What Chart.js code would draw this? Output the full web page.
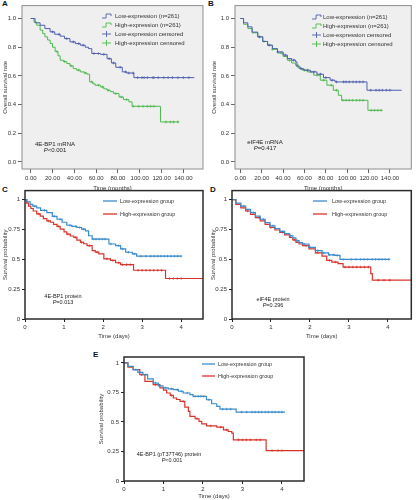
<!DOCTYPE html>
<html>
<head>
<meta charset="utf-8">
<script src="https://cdn.jsdelivr.net/npm/chart.js@4.4.1/dist/chart.umd.min.js"></script>
<style>
  html, body { margin: 0; padding: 0; background: #fff; }
  body { width: 416px; height: 500px; position: relative; overflow: hidden; font-family: "Liberation Sans", Arial, sans-serif; }
  canvas { position: absolute; }
  .tag { position: absolute; font-weight: bold; font-size: 8px; line-height: 8px; color: #111; }
</style>
</head>
<body>
<div class="tag" style="left:2px;top:0px">A</div>
<div class="tag" style="left:208px;top:0px">B</div>
<div class="tag" style="left:2px;top:186px">C</div>
<div class="tag" style="left:210px;top:186px">D</div>
<div class="tag" style="left:93px;top:351px">E</div>
<canvas id="chartA" width="208" height="195" style="left:0;top:0"></canvas>
<canvas id="chartB" width="208" height="195" style="left:208px;top:0"></canvas>
<canvas id="chartC" width="208" height="155" style="left:0;top:185px"></canvas>
<canvas id="chartD" width="208" height="155" style="left:208px;top:185px"></canvas>
<canvas id="chartE" width="214" height="155" style="left:96px;top:345px"></canvas>
<script>
const FONT = '"Liberation Sans", Arial, sans-serif';

// --- tick values ---
const monthTicks = [0, 20, 40, 60, 80, 100, 120, 140];
const rateTicks = [0, 0.2, 0.4, 0.6, 0.8, 1.0];
const dayTicks = [0, 1, 2, 3, 4];
const probTicks = [0, 0.25, 0.5, 0.75, 1];

// --- A: 4E-BP1 mRNA (months) ---
const aLowT = [0, 4, 8.6, 13, 17.8, 22, 27, 31, 36, 41, 45.5, 50, 53, 56, 60, 64, 70, 74, 78, 84, 88, 94.6, 150];
const aLowS = [1, 0.97, 0.953, 0.93, 0.907, 0.89, 0.877, 0.86, 0.837, 0.825, 0.814, 0.8, 0.79, 0.756, 0.756, 0.75, 0.72, 0.69, 0.66, 0.628, 0.62, 0.588, 0.588];
const aLowCens = [20, 26, 33, 39, 44, 48, 58, 62, 67, 72, 76, 82, 87, 90, 94, 98, 102, 104, 107, 112, 113, 117, 122, 126, 130, 135, 140, 145];
const aHighT = [0, 3, 5.5, 8.6, 11, 13, 15.5, 17.8, 20, 22.4, 25, 27, 30, 33, 36, 39, 42, 45.5, 49, 51.6, 54, 57, 59, 64, 67, 70, 73, 76, 81, 85, 90, 93, 119, 136];
const aHighS = [1, 0.975, 0.953, 0.919, 0.895, 0.872, 0.85, 0.826, 0.8, 0.77, 0.74, 0.709, 0.7, 0.686, 0.67, 0.651, 0.64, 0.628, 0.62, 0.612, 0.558, 0.545, 0.535, 0.523, 0.51, 0.5, 0.49, 0.477, 0.453, 0.435, 0.419, 0.388, 0.279, 0.279];
const aHighCens = [24, 31, 37, 44, 50, 56, 62, 66, 71, 78, 83, 88, 94, 99, 103, 107, 110, 113, 124, 128, 131, 135];

// --- B: eIF4E mRNA (months) ---
const bLowT = [0, 3, 7, 11, 16.3, 21, 25.5, 30, 34.8, 40, 44, 48, 51.7, 53, 56, 59.4, 65.5, 71.7, 77.8, 84, 88.6, 118.5, 151];
const bLowS = [1, 0.97, 0.942, 0.905, 0.872, 0.84, 0.814, 0.79, 0.767, 0.745, 0.721, 0.71, 0.698, 0.663, 0.65, 0.64, 0.628, 0.612, 0.588, 0.57, 0.558, 0.5, 0.5];
const bLowCens = [18, 27, 35, 42, 50, 57, 63, 69, 75, 80, 86, 90, 96.6, 99, 102, 105.5, 108.6, 111.7, 114.8, 122, 127, 130, 133, 136.6, 140];
const bHighT = [0, 3, 7, 11, 16.3, 21, 25.5, 30, 34.8, 40, 44, 48, 51.7, 54.8, 58, 62.5, 68.6, 74.8, 81, 87, 91.7, 94.8, 119.4, 133];
const bHighS = [1, 0.96, 0.93, 0.9, 0.872, 0.84, 0.814, 0.785, 0.76, 0.735, 0.709, 0.69, 0.674, 0.651, 0.64, 0.628, 0.605, 0.57, 0.535, 0.5, 0.465, 0.43, 0.36, 0.36];
const bHighCens = [22, 30, 38, 46, 53, 60, 66, 72, 78, 85, 90, 96, 99, 102, 105, 108.6, 111.7, 114.8, 122.5, 125.5, 128.6, 131.7];

// --- C: 4E-BP1 protein (days) ---
const cLowT = [0, 0.05, 0.13, 0.2, 0.3, 0.4, 0.56, 0.7, 0.82, 0.95, 1.07, 1.2, 1.33, 1.45, 1.55, 1.63, 1.72, 2.15, 2.32, 2.45, 2.58, 2.75, 2.86, 4.0];
const cLowS = [1, 0.98, 0.959, 0.945, 0.931, 0.91, 0.89, 0.86, 0.835, 0.81, 0.785, 0.775, 0.766, 0.752, 0.738, 0.697, 0.669, 0.628, 0.614, 0.587, 0.559, 0.545, 0.526, 0.526];
const cLowCens = [0.25, 0.5, 0.75, 0.9, 1.15, 1.3, 1.4, 1.5, 1.75, 1.82, 1.9, 1.98, 2.05, 2.2, 2.4, 2.5, 2.65, 2.8, 2.97, 3.1, 3.22, 3.31, 3.4, 3.48, 3.57, 3.65, 3.74, 3.83, 3.91, 4.0];
const cHighT = [0, 0.04, 0.09, 0.15, 0.21, 0.3, 0.39, 0.47, 0.56, 0.65, 0.73, 0.82, 0.9, 1.0, 1.07, 1.16, 1.25, 1.33, 1.42, 1.5, 1.59, 1.72, 1.8, 1.89, 2.02, 2.19, 2.32, 2.45, 2.78, 3.6, 4.6];
const cHighS = [1, 0.97, 0.945, 0.925, 0.904, 0.88, 0.862, 0.84, 0.821, 0.81, 0.793, 0.775, 0.752, 0.73, 0.711, 0.695, 0.683, 0.66, 0.642, 0.63, 0.614, 0.573, 0.56, 0.545, 0.504, 0.49, 0.471, 0.455, 0.408, 0.339, 0.339];
const cHighCens = [0.35, 0.6, 0.85, 1.1, 1.3, 1.45, 1.65, 1.85, 2.1, 2.25, 2.4, 2.5, 2.6, 2.7, 2.9, 3.0, 3.1, 3.2, 3.3, 3.4, 3.5, 3.7, 3.8, 3.9, 4.0];

// --- D: eIF4E protein (days) ---
const dLowT = [0, 0.1, 0.225, 0.35, 0.475, 0.6, 0.725, 0.85, 0.975, 1.1, 1.225, 1.35, 1.475, 1.56, 1.64, 1.72, 1.81, 1.975, 2.14, 2.31, 2.475, 2.64, 2.77, 4.06];
const dLowS = [1, 0.97, 0.945, 0.918, 0.89, 0.862, 0.835, 0.807, 0.78, 0.757, 0.733, 0.715, 0.697, 0.68, 0.656, 0.64, 0.628, 0.6, 0.573, 0.554, 0.537, 0.532, 0.499, 0.499];
const dLowCens = [0.3, 0.55, 0.8, 1.05, 1.3, 1.5, 1.68, 1.85, 2.0, 2.2, 2.35, 2.5, 2.6, 2.7, 2.85, 3.06, 3.18, 3.3, 3.39, 3.48, 3.6, 3.68, 3.77, 3.85, 3.93, 4.02];
const dHighT = [0, 0.1, 0.225, 0.35, 0.475, 0.6, 0.725, 0.85, 0.975, 1.1, 1.225, 1.35, 1.475, 1.56, 1.64, 1.72, 1.81, 1.975, 2.14, 2.31, 2.43, 2.56, 2.72, 2.85, 3.56, 3.6, 4.6];
const dHighS = [1, 0.96, 0.931, 0.904, 0.876, 0.848, 0.821, 0.793, 0.766, 0.745, 0.725, 0.704, 0.683, 0.662, 0.642, 0.628, 0.614, 0.587, 0.554, 0.526, 0.49, 0.477, 0.463, 0.435, 0.38, 0.325, 0.325];
const dHighCens = [0.4, 0.7, 1.0, 1.3, 1.6, 1.9, 2.2, 2.5, 2.65, 2.9, 3.0, 3.1, 3.2, 3.3, 3.4, 3.5, 3.75, 3.9, 4.05];

// --- E: 4E-BP1 (pT37T46) protein (days) ---
const eLowT = [0, 0.1, 0.23, 0.35, 0.48, 0.6, 0.74, 0.87, 0.99, 1.12, 1.25, 1.38, 1.5, 1.67, 1.75, 2.09, 2.22, 2.35, 2.43, 2.84, 4.08];
const eLowS = [1, 0.97, 0.943, 0.92, 0.9, 0.865, 0.83, 0.805, 0.788, 0.78, 0.773, 0.76, 0.745, 0.731, 0.717, 0.688, 0.654, 0.632, 0.609, 0.584, 0.584];
const eLowCens = [0.3, 0.55, 0.8, 1.05, 1.2, 1.35, 1.45, 1.6, 1.8, 1.88, 1.95, 2.02, 2.15, 2.5, 2.6, 2.7, 2.98, 3.11, 3.24, 3.32, 3.41, 3.49, 3.58, 3.66, 3.75, 3.83, 3.92, 4.0];
const eHighT = [0, 0.1, 0.23, 0.4, 0.53, 0.74, 0.91, 1.0, 1.08, 1.17, 1.25, 1.33, 1.42, 1.54, 1.63, 1.67, 1.8, 1.9, 1.97, 2.09, 2.35, 2.52, 2.64, 2.73, 2.77, 3.6, 4.6];
const eHighS = [1, 0.965, 0.943, 0.9, 0.844, 0.816, 0.788, 0.77, 0.745, 0.725, 0.703, 0.69, 0.674, 0.626, 0.589, 0.547, 0.527, 0.505, 0.484, 0.467, 0.456, 0.433, 0.419, 0.405, 0.348, 0.258, 0.258];
const eHighCens = [0.45, 0.8, 1.2, 1.5, 1.85, 2.2, 2.45, 2.6, 2.9, 3.0, 3.1, 3.2, 3.35, 3.45, 3.75, 3.9, 4.0];

const BLUE_A = '#4f5fae', GREEN_A = '#4fb84f';
const BLUE_C = '#3b8ccc', RED_C = '#d8342b';

// --- helpers ---
const pts = (t, s) => t.map((x, i) => ({ x: x, y: s[i] }));
// value of the step curve at time x (censor marks sit on the curve)
const survAt = (t, s, x) => { let v = s[0]; t.forEach((tt, i) => { if (tt <= x) v = s[i]; }); return v; };
const cens = (t, s, c) => c.map(x => ({ x: x, y: survAt(t, s, x) }));

function km(t, s, c, color, lw, mark) {
    return [
        { data: pts(t, s), showLine: true, stepped: true, borderColor: color, borderWidth: lw, pointRadius: 0, fill: false },
        { data: cens(t, s, c), showLine: false, pointStyle: 'cross', pointRadius: mark, borderColor: color, borderWidth: 0.7 }
    ];
}

// draws the plot box, the in-plot legend and the notes
const panelPlugin = {
    id: 'panel',
    beforeDraw(chart, args, o) {
        const a = chart.chartArea, ctx = chart.ctx;
        if (o.fill) {
            ctx.save();
            ctx.fillStyle = o.fill;
            ctx.fillRect(a.left, a.top, a.right - a.left, a.bottom - a.top);
            ctx.restore();
        }
    },
    afterDraw(chart, args, o) {
        const a = chart.chartArea, ctx = chart.ctx;
        ctx.save();
        ctx.strokeStyle = o.stroke;
        ctx.lineWidth = o.lineWidth;
        ctx.strokeRect(a.left, a.top, a.right - a.left, a.bottom - a.top);

        ctx.textBaseline = 'middle';
        o.legend.forEach((it, i) => {
            const y = o.legendY + i * o.legendGap, x0 = o.swX, x1 = o.swX + o.swW;
            ctx.strokeStyle = it.color;
            ctx.lineWidth = it.width;
            ctx.beginPath();
            if (it.kind === 'step') {
                const xm = x0 + o.swW * 0.45;
                ctx.moveTo(x0, y + 2); ctx.lineTo(xm, y + 2); ctx.lineTo(xm, y - 2); ctx.lineTo(x1, y - 2); ctx.lineTo(x1, y);
            } else if (it.kind === 'cross') {
                const xm = (x0 + x1) / 2;
                ctx.moveTo(x0, y); ctx.lineTo(x1, y);
                ctx.moveTo(xm, y - 3); ctx.lineTo(xm, y + 3);
            } else {
                ctx.moveTo(x0, y); ctx.lineTo(x1, y);
            }
            ctx.stroke();
            ctx.font = o.legendSize + 'px ' + FONT;
            ctx.fillStyle = '#333';
            ctx.textAlign = 'left';
            ctx.fillText(it.label, o.textX, y);
        });

        o.notes.forEach(n => {
            ctx.fillStyle = '#222';
            if (n.italicFirst) {
                const head = n.text.slice(0, 1), rest = n.text.slice(1);
                ctx.font = 'italic ' + o.noteSize + 'px ' + FONT;
                const wh = ctx.measureText(head).width;
                ctx.font = o.noteSize + 'px ' + FONT;
                const wr = ctx.measureText(rest).width;
                const xs = n.x - (wh + wr) / 2;
                ctx.textAlign = 'left';
                ctx.font = 'italic ' + o.noteSize + 'px ' + FONT;
                ctx.fillText(head, xs, n.y);
                ctx.font = o.noteSize + 'px ' + FONT;
                ctx.fillText(rest, xs + wh, n.y);
            } else {
                ctx.font = o.noteSize + 'px ' + FONT;
                ctx.textAlign = 'center';
                ctx.fillText(n.text, n.x, n.y);
            }
        });
        ctx.restore();
    }
};

function makePanel(id, c) {
    return new Chart(document.getElementById(id), {
        type: 'scatter',
        data: { datasets: c.datasets },
        options: {
            responsive: false,
            animation: false,
            events: [],
            layout: { padding: c.pad },
            plugins: { legend: { display: false }, tooltip: { enabled: false }, panel: c.panel },
            scales: {
                x: {
                    type: 'linear', min: c.xMin, max: c.xMax,
                    afterBuildTicks: s => { s.ticks = c.xTicks.map(v => ({ value: v })); },
                    afterFit: s => { s.height = c.xH; },
                    grid: { drawOnChartArea: false, drawTicks: true, tickLength: c.tickLen, color: c.tickColor, tickColor: c.tickColor },
                    border: { display: false },
                    ticks: { autoSkip: false, maxRotation: 0, padding: 2, color: '#333', font: { family: FONT, size: 6 }, callback: c.xFmt },
                    title: { display: true, text: c.xTitle, color: '#333', font: { family: FONT, size: 6 }, padding: { top: 0, bottom: c.xTitlePad } }
                },
                y: {
                    type: 'linear', min: c.yMin, max: c.yMax,
                    afterBuildTicks: s => { s.ticks = c.yTicks.map(v => ({ value: v })); },
                    afterFit: s => { s.width = c.yW; },
                    grid: { drawOnChartArea: false, drawTicks: true, tickLength: c.tickLen, color: c.tickColor, tickColor: c.tickColor },
                    border: { display: false },
                    ticks: { autoSkip: false, padding: 2, color: '#333', font: { family: FONT, size: 6 }, callback: c.yFmt },
                    title: { display: true, text: c.yTitle, color: '#333', font: { family: FONT, size: 6 }, padding: { top: c.yTitlePad, bottom: 0 } }
                }
            }
        },
        plugins: [panelPlugin]
    });
}

const legendAB = (blue, green) => [
    { kind: 'step', color: blue, width: 0.9, label: 'Low-expression (n=261)' },
    { kind: 'step', color: green, width: 0.9, label: 'High-expression (n=261)' },
    { kind: 'cross', color: blue, width: 0.9, label: 'Low-expression censored' },
    { kind: 'cross', color: green, width: 0.9, label: 'High-expression censored' }
];
const legendCDE = [
    { kind: 'line', color: BLUE_C, width: 1.3, label: 'Low-expression group' },
    { kind: 'line', color: RED_C, width: 1.3, label: 'High-expression group' }
];

const monthFmt = v => v.toFixed(2);
const rateFmt = v => v.toFixed(1);
const plainFmt = v => String(v);

makePanel('chartA', {
    datasets: [...km(aLowT, aLowS, aLowCens, BLUE_A, 1, 1.4), ...km(aHighT, aHighS, aHighCens, GREEN_A, 1, 1.4)],
    pad: { left: 0, top: 5, right: 5, bottom: 0 },
    xMin: -8, xMax: 158, xTicks: monthTicks, xFmt: monthFmt, xH: 26, xTitle: 'Time (months)', xTitlePad: 3,
    yMin: -0.049, yMax: 1.09, yTicks: rateTicks, yFmt: rateFmt, yW: 22, yTitle: 'Overall survival rate', yTitlePad: 2,
    tickLen: 4, tickColor: '#666',
    panel: {
        fill: '#efefef', stroke: '#8c8c8c', lineWidth: 1,
        legend: legendAB(BLUE_A, GREEN_A), legendY: 16, legendGap: 9, swX: 102, swW: 9, textX: 115, legendSize: 6,
        notes: [{ text: '4E-BP1 mRNA', x: 55, y: 144 }, { text: 'P<0.001', x: 55, y: 150, italicFirst: true }], noteSize: 6
    }
});

makePanel('chartB', {
    datasets: [...km(bLowT, bLowS, bLowCens, BLUE_A, 1, 1.4), ...km(bHighT, bHighS, bHighCens, GREEN_A, 1, 1.4)],
    pad: { left: 0, top: 5, right: 1, bottom: 0 },
    xMin: -5, xMax: 160, xTicks: monthTicks, xFmt: monthFmt, xH: 26, xTitle: 'Time (months)', xTitlePad: 3,
    yMin: -0.049, yMax: 1.09, yTicks: rateTicks, yFmt: rateFmt, yW: 27, yTitle: 'Overall survival rate', yTitlePad: 3,
    tickLen: 4, tickColor: '#666',
    panel: {
        fill: '#efefef', stroke: '#8c8c8c', lineWidth: 1,
        legend: legendAB(BLUE_A, GREEN_A), legendY: 17, legendGap: 9, swX: 104, swW: 9, textX: 115, legendSize: 6,
        notes: [{ text: 'eIF4E mRNA', x: 57, y: 142 }, { text: 'P=0.417', x: 57, y: 148, italicFirst: true }], noteSize: 6
    }
});

makePanel('chartC', {
    datasets: [...km(cLowT, cLowS, cLowCens, BLUE_C, 1.2, 1.3), ...km(cHighT, cHighS, cHighCens, RED_C, 1.2, 1.3)],
    pad: { left: 0, top: 5, right: 5, bottom: 0 },
    xMin: 0, xMax: 4.56, xTicks: dayTicks, xFmt: plainFmt, xH: 21, xTitle: 'Time (days)', xTitlePad: 0.5,
    yMin: 0, yMax: 1.075, yTicks: probTicks, yFmt: plainFmt, yW: 25, yTitle: 'Survival probability', yTitlePad: 1.5,
    tickLen: 3, tickColor: '#222',
    panel: {
        fill: null, stroke: '#2b2b2b', lineWidth: 1.5,
        legend: legendCDE, legendY: 16, legendGap: 13, swX: 103, swW: 14, textX: 120, legendSize: 5.5,
        notes: [{ text: '4E-BP1 protein', x: 63, y: 111 }, { text: 'P=0.013', x: 63, y: 117, italicFirst: true }], noteSize: 5.5
    }
});

makePanel('chartD', {
    datasets: [...km(dLowT, dLowS, dLowCens, BLUE_C, 1.2, 1.3), ...km(dHighT, dHighS, dHighCens, RED_C, 1.2, 1.3)],
    pad: { left: 0, top: 5, right: 0, bottom: 0 },
    xMin: 0, xMax: 4.6, xTicks: dayTicks, xFmt: plainFmt, xH: 21, xTitle: 'Time (days)', xTitlePad: 0.5,
    yMin: 0, yMax: 1.075, yTicks: probTicks, yFmt: plainFmt, yW: 24, yTitle: 'Survival probability', yTitlePad: 1.5,
    tickLen: 3, tickColor: '#222',
    panel: {
        fill: null, stroke: '#2b2b2b', lineWidth: 1.5,
        legend: legendCDE, legendY: 16, legendGap: 13, swX: 105, swW: 14, textX: 124, legendSize: 5.5,
        notes: [{ text: 'eIF4E protein', x: 65, y: 114 }, { text: 'P=0.296', x: 65, y: 120, italicFirst: true }], noteSize: 5.5
    }
});

makePanel('chartE', {
    datasets: [...km(eLowT, eLowS, eLowCens, BLUE_C, 1.2, 1.3), ...km(eHighT, eHighS, eHighCens, RED_C, 1.2, 1.3)],
    pad: { left: 0, top: 12, right: 6, bottom: 0 },
    xMin: 0, xMax: 4.56, xTicks: dayTicks, xFmt: plainFmt, xH: 19, xTitle: 'Time (days)', xTitlePad: 0,
    yMin: 0, yMax: 1.05, yTicks: probTicks, yFmt: plainFmt, yW: 28, yTitle: 'Survival probability', yTitlePad: 2,
    tickLen: 3, tickColor: '#222',
    panel: {
        fill: null, stroke: '#2b2b2b', lineWidth: 1.5,
        legend: legendCDE, legendY: 19, legendGap: 12, swX: 106, swW: 13, textX: 122, legendSize: 5.5,
        notes: [{ text: '4E-BP1 (pT37T46) protein', x: 73, y: 109 }, { text: 'P<0.001', x: 76, y: 115, italicFirst: true }], noteSize: 5.5
    }
});
</script>
</body>
</html>
